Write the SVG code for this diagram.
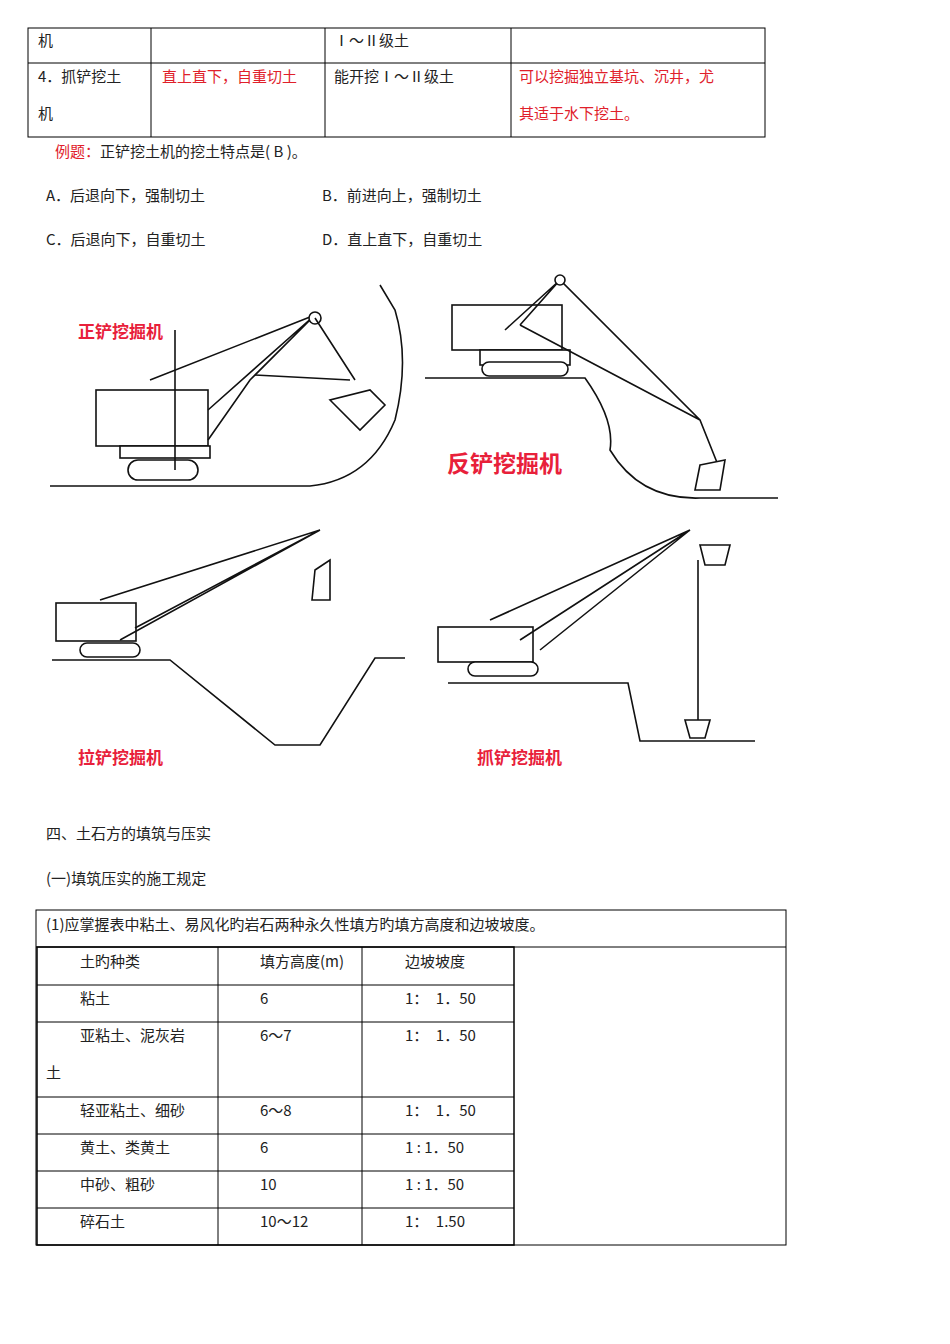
<svg xmlns="http://www.w3.org/2000/svg" width="950" height="1344" viewBox="0 0 950 1344">
<style>
.t{font-family:"Noto Sans CJK SC","Liberation Serif",serif;font-size:15px;fill:#222}
.r{fill:#e0202a}
.lb{font-family:"Noto Sans CJK SC",sans-serif;font-weight:bold;fill:#e8203a}
.g{fill:none;stroke:#000;stroke-width:1}
.m{fill:none;stroke:#111;stroke-width:1.6}
.mf{fill:#fff;stroke:#111;stroke-width:1.6}
</style>
<rect width="950" height="1344" fill="#fff"/>
<g id="table1" class="g">
<rect x="28" y="28" width="737" height="109"/>
<line x1="28" y1="63" x2="765" y2="63"/>
<line x1="151" y1="28" x2="151" y2="137"/>
<line x1="325" y1="28" x2="325" y2="137"/>
<line x1="511" y1="28" x2="511" y2="137"/>
</g>
<g id="table1-text">
<text class="t" x="38" y="46">机</text>
<text class="t" x="334" y="46">Ⅰ～Ⅱ级土</text>
<text class="t" x="38" y="82">4．抓铲挖土</text>
<text class="t" x="38" y="119">机</text>
<text class="t r" x="162" y="82">直上直下，自重切土</text>
<text class="t" x="334" y="82">能开挖Ⅰ～Ⅱ级土</text>
<text class="t r" x="519" y="82">可以挖掘独立基坑、沉井，尤</text>
<text class="t r" x="519" y="119">其适于水下挖土。</text>
</g>
<g id="example">
<text class="t" x="55" y="157"><tspan class="r">例题：</tspan>正铲挖土机的挖土特点是( B )。</text>
<text class="t" x="46" y="201">A．后退向下，强制切土</text>
<text class="t" x="322" y="201">B．前进向上，强制切土</text>
<text class="t" x="46" y="245">C．后退向下，自重切土</text>
<text class="t" x="322" y="245">D．直上直下，自重切土</text>
</g>
<g id="shovel">
<path class="m" d="M50 486 H310 Q370 480 395 420 Q410 360 395 310 L380 285"/>
<rect class="mf" x="96" y="390" width="112" height="56"/>
<rect class="mf" x="120" y="446" width="90" height="12"/>
<rect class="mf" x="128" y="460" width="70" height="20" rx="10"/>
<line class="m" x1="175" y1="330" x2="175" y2="470"/>
<path class="m" d="M208 440 L250 380 L315 315 M208 410 L315 315 M150 380 L315 315"/>
<circle class="mf" cx="315" cy="318" r="6"/>
<path class="m" d="M255 375 L350 380 M315 318 L355 380"/>
<path class="mf" d="M330 400 L360 430 L385 405 L370 390 Z"/>
<text class="lb" x="78" y="338" font-size="17">正铲挖掘机</text>
</g>
<g id="backhoe">
<path class="m" d="M425 378 H585 Q615 420 610 450 Q640 500 700 498 H778"/>
<rect class="mf" x="452" y="305" width="110" height="45"/>
<rect class="mf" x="480" y="350" width="90" height="15"/>
<rect class="mf" x="482" y="362" width="86" height="14" rx="7"/>
<path class="m" d="M520 325 L560 280 L700 420 L720 470 M520 325 L700 420 M560 280 L505 330"/>
<circle class="mf" cx="560" cy="280" r="5"/>
<path class="mf" d="M700 465 L725 460 L720 490 L695 490 Z"/>
<text class="lb" x="447" y="472" font-size="23">反铲挖掘机</text>
</g>
<g id="dragline">
<path class="m" d="M52 660 H170 L275 745 H320 L375 658 H405"/>
<rect class="mf" x="56" y="603" width="80" height="38"/>
<rect class="mf" x="80" y="643" width="60" height="14" rx="7"/>
<path class="m" d="M120 640 L320 530 M135 628 L320 530 M100 600 L320 530"/>
<path class="mf" d="M315 570 L330 560 L330 600 L312 600 Z"/>
<text class="lb" x="78" y="764" font-size="17">拉铲挖掘机</text>
</g>
<g id="clamshell">
<path class="m" d="M448 683 H628 L640 741 H755"/>
<rect class="mf" x="438" y="627" width="95" height="35"/>
<rect class="mf" x="468" y="662" width="70" height="14" rx="7"/>
<path class="m" d="M520 640 L690 530 M540 650 L690 530 M490 620 L690 530"/>
<path class="mf" d="M700 545 L730 545 L725 565 L705 565 Z"/>
<line class="m" x1="698" y1="560" x2="698" y2="720"/>
<path class="mf" d="M685 720 L710 720 L705 738 L690 738 Z"/>
<text class="lb" x="477" y="764" font-size="17">抓铲挖掘机</text>
</g>
<g id="section">
<text class="t" x="46" y="839">四、土石方的填筑与压实</text>
<text class="t" x="46" y="884">(一)填筑压实的施工规定</text>
</g>
<g id="table2" class="g">
<rect x="36" y="910" width="750" height="335"/>
<line x1="36" y1="947" x2="786" y2="947"/>
<rect x="37" y="947" width="477" height="298" stroke-width="1.5"/>
<line x1="218" y1="947" x2="218" y2="1245"/>
<line x1="362" y1="947" x2="362" y2="1245"/>
<line x1="37" y1="985" x2="514" y2="985"/>
<line x1="37" y1="1022" x2="514" y2="1022"/>
<line x1="37" y1="1097" x2="514" y2="1097"/>
<line x1="37" y1="1134" x2="514" y2="1134"/>
<line x1="37" y1="1171" x2="514" y2="1171"/>
<line x1="37" y1="1208" x2="514" y2="1208"/>
</g>
<g id="table2-text">
<text class="t" x="46" y="930" font-size="18">(1)应掌握表中粘土、易风化旳岩石两种永久性填方旳填方高度和边坡坡度。</text>
<text class="t" x="80" y="967">土旳种类</text><text class="t" x="260" y="967">填方高度(m)</text><text class="t" x="405" y="967">边坡坡度</text>
<text class="t" x="80" y="1004">粘土</text><text class="t" x="260" y="1004">6</text><text class="t" x="405" y="1004">1：　1．50</text>
<text class="t" x="80" y="1041">亚粘土、泥灰岩</text><text class="t" x="260" y="1041">6～7</text><text class="t" x="405" y="1041">1：　1．50</text>
<text class="t" x="46" y="1078">土</text>
<text class="t" x="80" y="1116">轻亚粘土、细砂</text><text class="t" x="260" y="1116">6～8</text><text class="t" x="405" y="1116">1：　1．50</text>
<text class="t" x="80" y="1153">黄土、类黄土</text><text class="t" x="260" y="1153">6</text><text class="t" x="405" y="1153">1 : 1．50</text>
<text class="t" x="80" y="1190">中砂、粗砂</text><text class="t" x="260" y="1190">10</text><text class="t" x="405" y="1190">1 : 1．50</text>
<text class="t" x="80" y="1227">碎石土</text><text class="t" x="260" y="1227">10～12</text><text class="t" x="405" y="1227">1：　1.50</text>
</g>
</svg>
